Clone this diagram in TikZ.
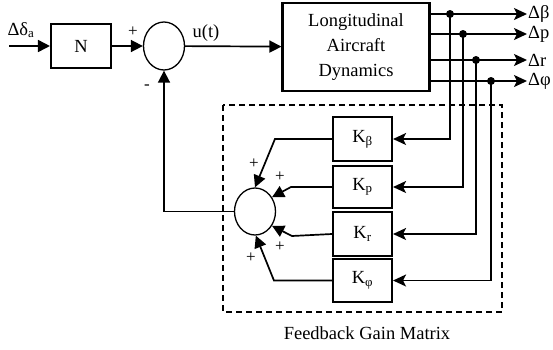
\documentclass[tikz,border=0pt]{standalone}
\usepackage{fontspec}
\setmainfont{Liberation Serif}
\usetikzlibrary{arrows.meta,positioning,shapes.geometric,calc}

\begin{document}
\begin{tikzpicture}[x=1pt, y=-1pt, every node/.style={font=\fontsize{18.5}{25}\selectfont}, blk/.style={draw, line width=2.1pt, minimum width=59, minimum height=44, inner sep=0pt, align=center}, sumnode/.style={draw, ellipse, line width=1.3pt, minimum width=41, minimum height=48, inner sep=0pt}, sgn/.style={font=\fontsize{17}{17}\selectfont, inner sep=0pt}, arr/.style={-{Triangle[length=12pt,width=12pt]}, line width=1.7pt}, sarr/.style={-{Stealth[length=13pt,width=12pt,inset=3pt]}, line width=1.7pt}, dot/.style={circle, fill, inner sep=0pt, minimum size=8pt}]
\useasboundingbox (0,0) rectangle (553,349);
\node (din) at (21,30) {Δδ\textsubscript{a}};
\coordinate (in) at (9,46);
\node[blk, minimum width=60] (N) at (81,46) {N};
\node[sumnode] (s1) at (164,46) {};
\node (ut) at (206,33) {u(t)};
\node[blk, minimum width=147, minimum height=88] (dyn) at (356,47) {Longitudinal\\Aircraft\\Dynamics};
\node[sgn] at (133,32) {+};
\node[sgn] at (147,87) {-};
% outputs
\node[anchor=west, inner sep=1pt] (ob) at (527,14) {Δβ};
\node[anchor=west, inner sep=1pt] (op) at (527,34) {Δp};
\node[anchor=west, inner sep=1pt] (or) at (527,60) {Δr};
\node[anchor=west, inner sep=1pt] (of) at (527,81) {Δφ};
\node[dot] (jb) at (450,14) {};
\node[dot] (jp) at (463,34) {};
\node[dot] (jr) at (476,60) {};
\node[dot] (jf) at (491,81) {};
% feedback gain matrix
\draw[line width=1.7pt, dash pattern=on 6pt off 4pt] (223,105) rectangle (502,312);
\node (fgm) at (367,333) {Feedback Gain Matrix};
\node[blk, minimum height=44] (kb) at (362.5,139) {K\textsubscript{β}};
\node[blk, minimum height=42] (kp) at (362.5,187) {K\textsubscript{p}};
\node[blk, minimum height=44] (kr) at (362.5,234) {K\textsubscript{r}};
\node[blk, minimum height=43] (kf) at (362.5,280.5) {K\textsubscript{φ}};
\node[sumnode, minimum height=47] (s2) at (255,211.5) {};
\node[sgn] at (254,164) {+};
\node[sgn] at (280,177) {+};
\node[sgn] at (280,247) {+};
\node[sgn] at (251,258) {+};
\draw[arr] (in) -- (N); \draw[arr] (N) -- (s1); \draw[arr] (s1) -- (dyn);
\draw[sarr] (dyn.east |- ob) -- (ob.west); \draw[sarr] (dyn.east |- op) -- (op.west); \draw[sarr] (dyn.east |- or) -- (or.west); \draw[sarr] (dyn.east |- of) -- (of.west);
\draw[sarr] (jb.center) |- (kb.east); \draw[sarr] (jp.center) |- (kp.east); \draw[sarr] (jr.center) |- (kr.east); \draw[sarr] (jf.center) |- (kf.east);
\draw[arr] (kb.west) -- ++(-57,0) -- (s2.north); \draw[arr] (kp.west) -- ++(-41,0) -- (s2.40);
\draw[arr] (kr.west) -- ++(-40,2) -- (s2.-40); \draw[arr] (kf.west) -- ++(-58,0) -- (s2.-88);
\draw[arr] (s2.west) -| (s1.south);
\end{tikzpicture}
\end{document}
